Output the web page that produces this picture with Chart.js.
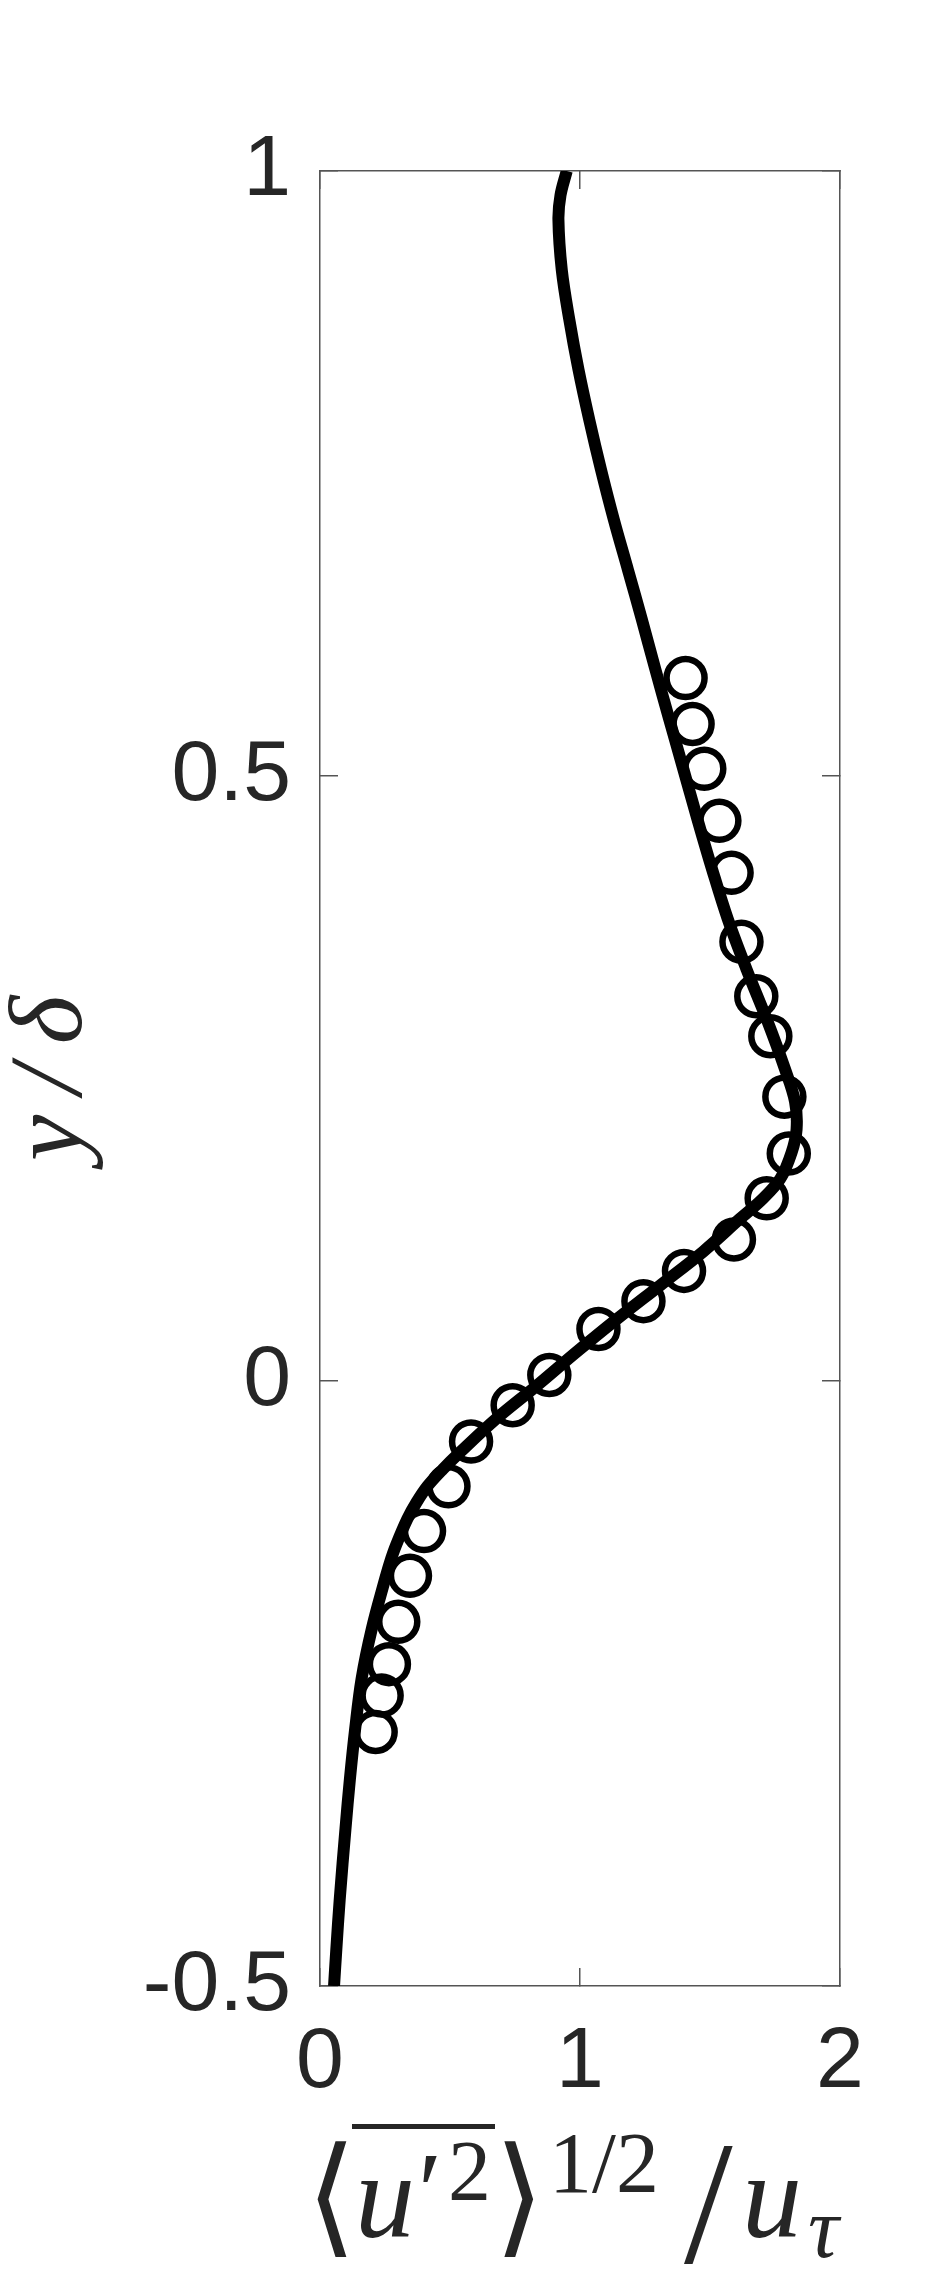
<!DOCTYPE html>
<html lang="en">

<head>
  <meta charset="UTF-8" />
  <title>u' profile</title>
  <style>
    body { margin: 0; background: #fff; }
  </style>
</head>

<body>
  <div style="width:930px; height:2280px">
    <canvas id="myChart" width="930" height="2280"></canvas>
  </div>
  <script src="https://cdn.jsdelivr.net/npm/chart.js@4.4.1/dist/chart.umd.min.js"></script>

  <script>
    // solid curve (simulation), read top to bottom
    const lineY = [1.000, 0.980, 0.960, 0.918, 0.877, 0.836, 0.794, 0.753, 0.712, 0.670,
      0.630, 0.588, 0.547, 0.506, 0.464, 0.423, 0.382, 0.340, 0.299, 0.258,
      0.231, 0.208, 0.189, 0.167, 0.150, 0.134, 0.107, 0.079, 0.051, 0.024,
      -0.004, -0.031, -0.059, -0.073, -0.087, -0.100, -0.114, -0.136, -0.150,
      -0.164, -0.205, -0.246, -0.288, -0.329, -0.370, -0.428, -0.469, -0.500];
    const lineX = [0.949, 0.925, 0.917, 0.930, 0.959, 0.994, 1.036, 1.081, 1.130, 1.185,
      1.237, 1.290, 1.343, 1.397, 1.452, 1.508, 1.568, 1.641, 1.718, 1.788,
      1.827, 1.833, 1.814, 1.770, 1.700, 1.615, 1.474, 1.308, 1.141, 0.987,
      0.833, 0.679, 0.538, 0.472, 0.413, 0.372, 0.336, 0.292, 0.269,
      0.250, 0.199, 0.160, 0.135, 0.115, 0.098, 0.076, 0.063, 0.054];

    // open circles (measurements)
    const circleY = [0.581, 0.543, 0.506, 0.463, 0.420, 0.363, 0.318, 0.285, 0.235, 0.188,
      0.151, 0.117, 0.091, 0.066, 0.043, 0.005, -0.020, -0.050, -0.087, -0.124,
      -0.161, -0.199, -0.234, -0.260, -0.290];
    const circleX = [1.406, 1.433, 1.478, 1.536, 1.583, 1.621, 1.678, 1.732, 1.786, 1.803,
      1.718, 1.592, 1.400, 1.244, 1.071, 0.882, 0.741, 0.581, 0.494, 0.400,
      0.346, 0.301, 0.265, 0.237, 0.214];

    const xTicks = [0, 1, 2];
    const yTicks = [-0.5, 0, 0.5, 1];

    const tickFont = { family: "'Liberation Sans', Arial, Helvetica, sans-serif", size: 86, lineHeight: 1.2 };
    const axisColor = "#555555";
    const textColor = "#262626";
    const serif = "'Liberation Serif', 'Times New Roman', serif";

    // x axis label: <u'^2 (overlined)>^{1/2} / u_tau
    const xLabelPlugin = {
      id: "xLabel",
      afterDraw(chart) {
        const ctx = chart.ctx;
        ctx.save();
        ctx.fillStyle = textColor;
        ctx.textAlign = "left";

        ctx.font = `130px 'DejaVu Sans'`;
        ctx.textBaseline = "middle";
        ctx.fillText("\u27E8", 306, 2206);
        ctx.fillText("\u27E9", 494, 2206);
        ctx.textBaseline = "alphabetic";

        ctx.font = `italic 120px ${serif}`;
        ctx.fillText("u", 355, 2237);
        ctx.fillText("u", 742, 2237);

        ctx.font = `110px ${serif}`;
        ctx.fillText("\u2032", 418, 2228);

        ctx.font = `86px ${serif}`;
        ctx.fillText("2", 448, 2200);
        ctx.fillText("1/2", 549, 2192);

        ctx.font = `italic 86px ${serif}`;
        ctx.fillText("\u03C4", 808, 2257);

        ctx.font = `175px ${serif}`;
        ctx.fillText("/", 684, 2262);

        ctx.fillRect(352, 2124, 143, 5);
        ctx.restore();
      }
    };

    const fixSize = (w, h) => (scale) => {
      if (w !== null) scale.width = w;
      if (h !== null) scale.height = h;
    };

    new Chart(document.getElementById("myChart"), {
      type: "scatter",
      data: {
        datasets: [
          {
            label: "simulation",
            data: lineX.map((x, i) => ({ x: x, y: lineY[i] })),
            showLine: true,
            borderColor: "#000",
            borderWidth: 12,
            pointRadius: 0,
            tension: 0.35,
            fill: false,
            clip: 0,
          },
          {
            label: "experiment",
            data: circleX.map((x, i) => ({ x: x, y: circleY[i] })),
            showLine: false,
            pointStyle: "circle",
            pointRadius: 19,
            pointBorderWidth: 6.5,
            borderColor: "#000",
            backgroundColor: "rgba(0,0,0,0)",
            clip: false,
          },
        ],
      },
      options: {
        responsive: false,
        animation: false,
        events: [],
        layout: { padding: { left: 0, top: 171, right: 90, bottom: 0 } },
        plugins: { legend: { display: false }, tooltip: { enabled: false } },
        scales: {
          x: {
            type: "linear",
            position: "bottom",
            min: 0,
            max: 2,
            afterBuildTicks: (s) => { s.ticks = xTicks.map((v) => ({ value: v })); },
            afterFit: fixSize(null, 294),
            grid: { drawOnChartArea: false, tickLength: -18, color: axisColor, lineWidth: 1.5 },
            border: { color: axisColor, width: 1.5 },
            ticks: { font: tickFont, color: textColor, padding: 44, maxRotation: 0, callback: (v) => String(v) },
          },
          x2: {
            type: "linear",
            position: "top",
            min: 0,
            max: 2,
            afterBuildTicks: (s) => { s.ticks = xTicks.map((v) => ({ value: v })); },
            afterFit: fixSize(null, 0),
            grid: { drawOnChartArea: false, tickLength: -18, color: axisColor, lineWidth: 1.5 },
            border: { color: axisColor, width: 1.5 },
            ticks: { display: false },
          },
          y: {
            type: "linear",
            position: "left",
            min: -0.5,
            max: 1,
            afterBuildTicks: (s) => { s.ticks = yTicks.map((v) => ({ value: v })); },
            afterFit: fixSize(320, null),
            grid: { drawOnChartArea: false, tickLength: -18, color: axisColor, lineWidth: 1.5 },
            border: { color: axisColor, width: 1.5 },
            ticks: { font: tickFont, color: textColor, padding: 47, callback: (v) => String(v) },
            title: {
              display: true,
              text: "y\u2009/\u2009\u03B4",
              color: textColor,
              font: { family: serif, size: 104, style: "italic", lineHeight: 1 },
              padding: { top: 2, bottom: 0 },
            },
          },
          y2: {
            type: "linear",
            position: "right",
            min: -0.5,
            max: 1,
            afterBuildTicks: (s) => { s.ticks = yTicks.map((v) => ({ value: v })); },
            afterFit: fixSize(0, null),
            grid: { drawOnChartArea: false, tickLength: -18, color: axisColor, lineWidth: 1.5 },
            border: { color: axisColor, width: 1.5 },
            ticks: { display: false },
          },
        },
      },
      plugins: [xLabelPlugin],
    });
  </script>
</body>

</html>
